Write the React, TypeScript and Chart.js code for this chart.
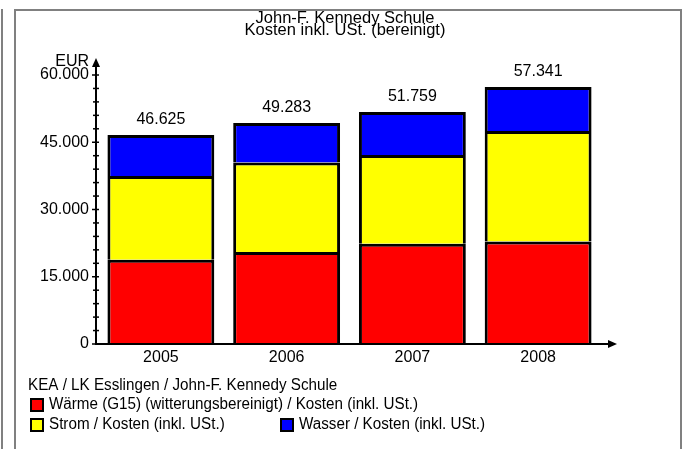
import React, { useEffect, useRef } from "react";
import { Chart, registerables } from "chart.js";

Chart.register(...registerables);

const categories = ["2005", "2006", "2007", "2008"];
const waerme = [18780, 20500, 22350, 22860];
const strom = [18720, 19960, 19830, 24670];
const wasser = [9125, 8823, 9579, 9811];
const yTicks = [0, 15000, 30000, 45000, 60000];
const titleLines = ["John-F. Kennedy Schule", "Kosten inkl. USt. (bereinigt)"];
const legendHeader = "KEA / LK Esslingen / John-F. Kennedy Schule";
const seriesLabels = [
  "Wärme (G15) (witterungsbereinigt) / Kosten (inkl. USt.)",
  "Strom / Kosten (inkl. USt.)",
  "Wasser / Kosten (inkl. USt.)",
];
const seriesColors = ["#ff0000", "#ffff00", "#0000ff"];
const yUnit = "EUR";

const FONT = "'Liberation Sans', Arial, sans-serif";

function fmt(n: number): string {
  const s = Math.round(n).toString();
  return s.replace(/\B(?=(\d{3})+(?!\d))/g, ".");
}

function drawText(ctx: CanvasRenderingContext2D, text: string, x: number, y: number, size: number, align: CanvasTextAlign, sx = 1) {
  ctx.save();
  ctx.font = `${size}px ${FONT}`;
  ctx.fillStyle = "#000";
  ctx.textAlign = align;
  ctx.textBaseline = "middle";
  ctx.translate(x, y);
  ctx.scale(sx, 1);
  ctx.fillText(text, 0, 0);
  ctx.restore();
}

const decorPlugin = {
  id: "decor",
  afterDraw(chart: any) {
    const ctx: CanvasRenderingContext2D = chart.ctx;
    const xs = chart.scales.x;
    const ys = chart.scales.y;
    const y0 = ys.getPixelForValue(0);
    const yTop = ys.getPixelForValue(60000);
    const axX = chart.chartArea.left - 2;
    const axRight = chart.chartArea.right + 14;

    ctx.save();
    // frame
    ctx.strokeStyle = "#808080";
    ctx.lineWidth = 2;
    ctx.beginPath();
    ctx.moveTo(2, 9);
    ctx.lineTo(2, 449);
    ctx.moveTo(15, 449);
    ctx.lineTo(15, 10);
    ctx.lineTo(681, 10);
    ctx.lineTo(681, 449);
    ctx.stroke();

    // axes
    ctx.strokeStyle = "#000";
    ctx.fillStyle = "#000";
    ctx.lineWidth = 2;
    ctx.beginPath();
    ctx.moveTo(axX, y0 + 1);
    ctx.lineTo(axX, yTop - 10);
    ctx.moveTo(axX - 1, y0);
    ctx.lineTo(axRight - 4, y0);
    ctx.stroke();
    // arrows
    ctx.beginPath();
    ctx.moveTo(axX, yTop - 17);
    ctx.lineTo(axX - 4, yTop - 8);
    ctx.lineTo(axX + 4, yTop - 8);
    ctx.closePath();
    ctx.fill();
    ctx.beginPath();
    ctx.moveTo(axRight + 2, y0);
    ctx.lineTo(axRight - 7, y0 - 4);
    ctx.lineTo(axRight - 7, y0 + 4);
    ctx.closePath();
    ctx.fill();

    // ticks
    ctx.lineWidth = 1.5;
    for (let v = 0; v <= 60000; v += 3000) {
      const py = ys.getPixelForValue(v);
      const major = v % 15000 === 0;
      ctx.beginPath();
      ctx.moveTo(axX - (major ? 4 : 3), py);
      ctx.lineTo(axX + 3, py);
      ctx.stroke();
    }
    ctx.restore();

    // y tick labels
    yTicks.forEach((v) => {
      drawText(ctx, fmt(v), axX - 7, ys.getPixelForValue(v), 16, "right", 1);
    });
    drawText(ctx, yUnit, axX - 7, yTop - 13, 16, "right", 1);

    // x labels and totals
    categories.forEach((c, i) => {
      const px = xs.getPixelForValue(i);
      drawText(ctx, c, px, y0 + 14, 16, "center", 1);
      const total = waerme[i] + strom[i] + wasser[i];
      drawText(ctx, fmt(total), px, ys.getPixelForValue(total) - 15, 16, "center", 1);
    });

    // title
    drawText(ctx, titleLines[0], 345, 18, 16.5, "center", 1);
    drawText(ctx, titleLines[1], 345, 30, 16.5, "center", 1);

    // legend
    drawText(ctx, legendHeader, 28, 386, 16, "left", 0.95);
    const items = [
      { x: 31, y: 405 },
      { x: 31, y: 425 },
      { x: 281, y: 425 },
    ];
    items.forEach((it, i) => {
      ctx.save();
      ctx.fillStyle = seriesColors[i];
      ctx.fillRect(it.x, it.y - 6, 12, 12);
      ctx.strokeStyle = "#000";
      ctx.lineWidth = 2;
      ctx.strokeRect(it.x, it.y - 6, 12, 12);
      ctx.restore();
      drawText(ctx, seriesLabels[i], it.x + 18, it.y, 16, "left", 0.95);
    });
  },
};

export default function App() {
  const ref = useRef<HTMLCanvasElement | null>(null);
  useEffect(() => {
    if (!ref.current) return;
    const chart = new Chart(ref.current, {
      type: "bar",
      data: {
        labels: categories,
        datasets: [
          { label: seriesLabels[0], data: waerme, backgroundColor: seriesColors[0] },
          { label: seriesLabels[1], data: strom, backgroundColor: seriesColors[1] },
          { label: seriesLabels[2], data: wasser, backgroundColor: seriesColors[2] },
        ].map((d) => ({
          ...d,
          borderColor: "#000",
          borderWidth: 3,
          barPercentage: 0.85,
          categoryPercentage: 1,
        })),
      },
      options: {
        responsive: false,
        animation: false,
        devicePixelRatio: 1,
        layout: { padding: { left: 98, right: 85, top: 75, bottom: 105 } },
        plugins: { legend: { display: false }, title: { display: false }, tooltip: { enabled: false } },
        scales: {
          x: { stacked: true, display: false },
          y: { stacked: true, display: false, min: 0, max: 60000 },
        },
      },
      plugins: [decorPlugin],
    });
    return () => chart.destroy();
  }, []);
  return (
    <div style={{ position: "fixed", left: 0, top: 0, width: 686, height: 449, background: "#fff" }}>
      <canvas ref={ref} width={686} height={449} style={{ width: 686, height: 449 }} />
    </div>
  );
}
